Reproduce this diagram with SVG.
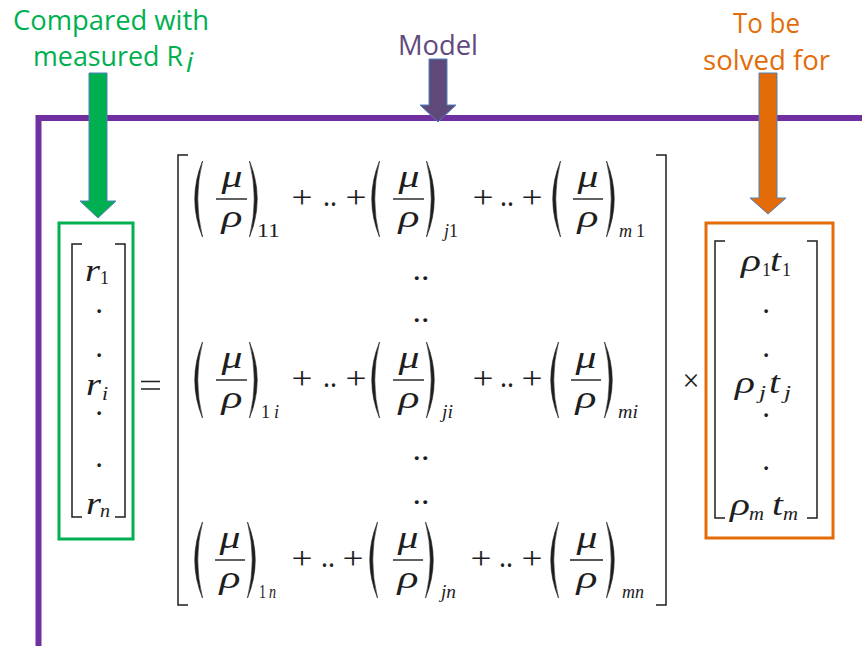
<svg xmlns="http://www.w3.org/2000/svg" xmlns:xlink="http://www.w3.org/1999/xlink" width="862" height="646" viewBox="0 0 862 646">
<style>
.lbl{font-family:"Open Sans","Liberation Sans",sans-serif;font-size:28px}
.g{fill:#00B050}.p{fill:#604A7B}.o{fill:#E36C09}
.m{font-family:"Liberation Serif","DejaVu Serif","Times New Roman",serif;fill:#1e1e1e}
.it{font-style:italic}
.big{font-size:31px}
.sub{font-size:19px}
.op{font-size:31px}
.c{text-anchor:middle}
.br{fill:none;stroke:#1e1e1e;stroke-width:1.5}
.bar{stroke:#1e1e1e;stroke-width:1.4}
.arrow{stroke:#4F81BD;stroke-width:1}
</style>
<defs>
<path id="lp" d="M9.5,-38 Q-6,0 9.5,38 Q0,0 9.5,-38 Z" fill="#1e1e1e" stroke="#1e1e1e" stroke-width="0.6"/>
<path id="rp" d="M-9.5,-38 Q6,0 -9.5,38 Q0,0 -9.5,-38 Z" fill="#1e1e1e" stroke="#1e1e1e" stroke-width="0.6"/>
</defs>
<rect width="862" height="646" fill="#fff"/>

<g id="model-frame">
<polyline points="38.5,646 38.5,118 862,118" fill="none" stroke="#7030A0" stroke-width="6"/>
</g>

<g id="label-compared">
<text class="lbl g" x="13" y="30" textLength="196" lengthAdjust="spacingAndGlyphs">Compared with</text>
<text class="lbl g" x="33" y="66" textLength="150" lengthAdjust="spacingAndGlyphs">measured R</text>
<text class="lbl g" x="186" y="72" font-size="18" font-style="italic">i</text>
</g>
<g id="label-model">
<text class="lbl p" x="398" y="55" textLength="80" lengthAdjust="spacingAndGlyphs">Model</text>
</g>
<g id="label-solved">
<text class="lbl o" x="733" y="33" textLength="67" lengthAdjust="spacingAndGlyphs">To be</text>
<text class="lbl o" x="703" y="70" textLength="127" lengthAdjust="spacingAndGlyphs">solved for</text>
</g>

<g id="connectors">
<polygon class="arrow" fill="#00B050" points="89,73 107,73 107,201 116,201 98,218 80,201 89,201"/>
<polygon class="arrow" fill="#5F497A" points="429,59 447,59 447,105 456,105 438,122 420,105 429,105"/>
<polygon class="arrow" fill="#E36C09" points="759,73 777,73 777,198 786,198 768,214 750,198 759,198"/>
</g>

<g id="vector-r">
<rect x="59" y="223" width="74" height="316" fill="none" stroke="#00B050" stroke-width="3"/>
<path class="br" d="M82,244 H72 V517 H82 M115,244 H125 V517 H115"/>
<text class="m it big" x="85" y="281" textLength="15" lengthAdjust="spacingAndGlyphs">r</text>
<text class="m sub" x="100" y="284" textLength="9" lengthAdjust="spacingAndGlyphs">1</text>
<text class="m op c" x="99" y="313">.</text>
<text class="m op c" x="99" y="357">.</text>
<text class="m it big" x="86" y="395" textLength="15" lengthAdjust="spacingAndGlyphs">r</text>
<text class="m it sub" x="102" y="400" textLength="6" lengthAdjust="spacingAndGlyphs">i</text>
<text class="m op c" x="99" y="415">.</text>
<text class="m op c" x="99" y="467">.</text>
<text class="m it big" x="86" y="514" textLength="15" lengthAdjust="spacingAndGlyphs">r</text>
<text class="m it sub" x="100" y="517" textLength="10" lengthAdjust="spacingAndGlyphs">n</text>
</g>

<g id="equals">
<path class="bar" d="M141,381.5 H160 M141,389 H160"/>
</g>

<g id="matrix">
<path class="br" d="M188,155 H178 V605 H188 M656,155 H666 V605 H656"/>
<g id="row1">
<use xlink:href="#lp" x="193" y="199"/><use xlink:href="#rp" x="259" y="199"/>
<text class="m it big c" x="232" y="187" textLength="21" lengthAdjust="spacingAndGlyphs">μ</text>
<path class="bar" d="M216,199 H247"/>
<text class="m it big c" x="232" y="227" textLength="21" lengthAdjust="spacingAndGlyphs">ρ</text>
<text class="m sub" x="257" y="237" textLength="23" lengthAdjust="spacingAndGlyphs">11</text>
<text class="m op c" x="302" y="208" textLength="21" lengthAdjust="spacingAndGlyphs">+</text>
<text class="m op c" x="330" y="206" textLength="14" lengthAdjust="spacingAndGlyphs">..</text>
<text class="m op c" x="356" y="208" textLength="21" lengthAdjust="spacingAndGlyphs">+</text>
<use xlink:href="#lp" x="370" y="199"/><use xlink:href="#rp" x="436" y="199"/>
<text class="m it big c" x="409" y="187" textLength="21" lengthAdjust="spacingAndGlyphs">μ</text>
<path class="bar" d="M393,199 H424"/>
<text class="m it big c" x="409" y="227" textLength="21" lengthAdjust="spacingAndGlyphs">ρ</text>
<text class="m sub" x="444" y="237" textLength="14" lengthAdjust="spacingAndGlyphs"><tspan class="it">j</tspan>1</text>
<text class="m op c" x="483" y="208" textLength="21" lengthAdjust="spacingAndGlyphs">+</text>
<text class="m op c" x="507" y="206" textLength="14" lengthAdjust="spacingAndGlyphs">..</text>
<text class="m op c" x="532" y="208" textLength="21" lengthAdjust="spacingAndGlyphs">+</text>
<use xlink:href="#lp" x="551" y="199"/><use xlink:href="#rp" x="616" y="199"/>
<text class="m it big c" x="588" y="187" textLength="21" lengthAdjust="spacingAndGlyphs">μ</text>
<path class="bar" d="M573,199 H603"/>
<text class="m it big c" x="588" y="227" textLength="21" lengthAdjust="spacingAndGlyphs">ρ</text>
<text class="m sub" x="619" y="237" textLength="26" lengthAdjust="spacingAndGlyphs"><tspan class="it">m</tspan><tspan dx="4">1</tspan></text>
</g>
<text class="m op c" x="421" y="280" textLength="17" lengthAdjust="spacingAndGlyphs">..</text>
<text class="m op c" x="421" y="322" textLength="17" lengthAdjust="spacingAndGlyphs">..</text>
<g id="row2">
<use xlink:href="#lp" x="193" y="380"/><use xlink:href="#rp" x="259" y="380"/>
<text class="m it big c" x="232" y="368" textLength="21" lengthAdjust="spacingAndGlyphs">μ</text>
<path class="bar" d="M216,380 H247"/>
<text class="m it big c" x="232" y="408" textLength="21" lengthAdjust="spacingAndGlyphs">ρ</text>
<text class="m sub" x="261" y="418" textLength="18" lengthAdjust="spacingAndGlyphs">1<tspan class="it" dx="4">i</tspan></text>
<text class="m op c" x="302" y="389" textLength="21" lengthAdjust="spacingAndGlyphs">+</text>
<text class="m op c" x="330" y="387" textLength="14" lengthAdjust="spacingAndGlyphs">..</text>
<text class="m op c" x="356" y="389" textLength="21" lengthAdjust="spacingAndGlyphs">+</text>
<use xlink:href="#lp" x="370" y="380"/><use xlink:href="#rp" x="436" y="380"/>
<text class="m it big c" x="409" y="368" textLength="21" lengthAdjust="spacingAndGlyphs">μ</text>
<path class="bar" d="M393,380 H424"/>
<text class="m it big c" x="409" y="408" textLength="21" lengthAdjust="spacingAndGlyphs">ρ</text>
<text class="m sub it" x="442" y="418" textLength="11" lengthAdjust="spacingAndGlyphs">ji</text>
<text class="m op c" x="483" y="389" textLength="21" lengthAdjust="spacingAndGlyphs">+</text>
<text class="m op c" x="507" y="387" textLength="14" lengthAdjust="spacingAndGlyphs">..</text>
<text class="m op c" x="532" y="389" textLength="21" lengthAdjust="spacingAndGlyphs">+</text>
<use xlink:href="#lp" x="549" y="380"/><use xlink:href="#rp" x="614" y="380"/>
<text class="m it big c" x="586" y="368" textLength="21" lengthAdjust="spacingAndGlyphs">μ</text>
<path class="bar" d="M571,380 H601"/>
<text class="m it big c" x="586" y="408" textLength="21" lengthAdjust="spacingAndGlyphs">ρ</text>
<text class="m sub it" x="618" y="418" textLength="20" lengthAdjust="spacingAndGlyphs">mi</text>
</g>
<text class="m op c" x="421" y="460" textLength="17" lengthAdjust="spacingAndGlyphs">..</text>
<text class="m op c" x="421" y="504" textLength="17" lengthAdjust="spacingAndGlyphs">..</text>
<g id="row3">
<use xlink:href="#lp" x="193" y="560"/><use xlink:href="#rp" x="257" y="560"/>
<text class="m it big c" x="230" y="548" textLength="21" lengthAdjust="spacingAndGlyphs">μ</text>
<path class="bar" d="M215,560 H245"/>
<text class="m it big c" x="230" y="588" textLength="21" lengthAdjust="spacingAndGlyphs">ρ</text>
<text class="m sub" x="259" y="598" textLength="17" lengthAdjust="spacingAndGlyphs">1<tspan class="it" dx="4">n</tspan></text>
<text class="m op c" x="302" y="569" textLength="21" lengthAdjust="spacingAndGlyphs">+</text>
<text class="m op c" x="328" y="567" textLength="14" lengthAdjust="spacingAndGlyphs">..</text>
<text class="m op c" x="353" y="569" textLength="21" lengthAdjust="spacingAndGlyphs">+</text>
<use xlink:href="#lp" x="368" y="560"/><use xlink:href="#rp" x="435" y="560"/>
<text class="m it big c" x="408" y="548" textLength="21" lengthAdjust="spacingAndGlyphs">μ</text>
<path class="bar" d="M393,560 H423"/>
<text class="m it big c" x="408" y="588" textLength="21" lengthAdjust="spacingAndGlyphs">ρ</text>
<text class="m sub it" x="441" y="598" textLength="15" lengthAdjust="spacingAndGlyphs">jn</text>
<text class="m op c" x="481" y="569" textLength="21" lengthAdjust="spacingAndGlyphs">+</text>
<text class="m op c" x="506" y="567" textLength="14" lengthAdjust="spacingAndGlyphs">..</text>
<text class="m op c" x="532" y="569" textLength="21" lengthAdjust="spacingAndGlyphs">+</text>
<use xlink:href="#lp" x="549" y="560"/><use xlink:href="#rp" x="616" y="560"/>
<text class="m it big c" x="587" y="548" textLength="21" lengthAdjust="spacingAndGlyphs">μ</text>
<path class="bar" d="M570,560 H603"/>
<text class="m it big c" x="587" y="588" textLength="21" lengthAdjust="spacingAndGlyphs">ρ</text>
<text class="m sub it" x="622" y="598" textLength="22" lengthAdjust="spacingAndGlyphs">mn</text>
</g>
</g>

<g id="times">
<text class="m op c" x="691" y="391" textLength="17" lengthAdjust="spacingAndGlyphs">×</text>
</g>

<g id="vector-rho-t">
<rect x="706" y="223" width="127" height="315" fill="none" stroke="#E36C09" stroke-width="3"/>
<path class="br" d="M725,241 H715 V518 H725 M807,241 H817 V518 H807"/>
<text class="m it big" x="741" y="271" textLength="20" lengthAdjust="spacingAndGlyphs">ρ</text>
<text class="m sub" x="762" y="276" textLength="9" lengthAdjust="spacingAndGlyphs">1</text>
<text class="m it big" x="770" y="271" textLength="11" lengthAdjust="spacingAndGlyphs">t</text>
<text class="m sub" x="782" y="276" textLength="9" lengthAdjust="spacingAndGlyphs">1</text>
<text class="m op c" x="766" y="313">.</text>
<text class="m op c" x="766" y="357">.</text>
<text class="m it big" x="735" y="393" textLength="20" lengthAdjust="spacingAndGlyphs">ρ</text>
<text class="m it sub" x="759" y="399" textLength="7" lengthAdjust="spacingAndGlyphs">j</text>
<text class="m it big" x="769" y="393" textLength="11" lengthAdjust="spacingAndGlyphs">t</text>
<text class="m it sub" x="784" y="399" textLength="7" lengthAdjust="spacingAndGlyphs">j</text>
<text class="m op c" x="766" y="417">.</text>
<text class="m op c" x="766" y="470">.</text>
<text class="m it big" x="730" y="515" textLength="20" lengthAdjust="spacingAndGlyphs">ρ</text>
<text class="m it sub" x="749" y="520" textLength="15" lengthAdjust="spacingAndGlyphs">m</text>
<text class="m it big" x="772" y="515" textLength="11" lengthAdjust="spacingAndGlyphs">t</text>
<text class="m it sub" x="783" y="520" textLength="15" lengthAdjust="spacingAndGlyphs">m</text>
</g>
</svg>
